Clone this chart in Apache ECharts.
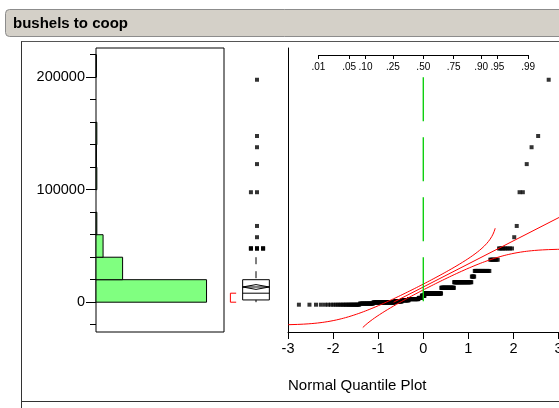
<!DOCTYPE html>
<html>
<head>
<meta charset="utf-8">
<script src="https://cdn.jsdelivr.net/npm/echarts@6/dist/echarts.min.js"></script>
<style>
  html, body { margin: 0; padding: 0; background: #fff; }
  #c { width: 559px; height: 408px; }
</style>
</head>
<body>
<div id="c"></div>
<script>
// Bushels delivered to the coop: each distinct reported amount and how many farms reported it
const bushelValues = [0, 1000, 2000, 3000, 4000, 5000, 6000, 8000, 10000, 15000, 20000, 25000,
                      30000, 40000, 50000, 60000, 70000, 100000, 125000, 140000, 150000, 200000];
const bushelCounts = [27, 19, 45, 20, 20, 30, 10, 9, 51, 35, 38, 5,
                      21, 8, 9, 1, 1, 2, 1, 1, 1, 1];

// Axis ticks and labels
const histBinWidth = 20000;
const valueTicks = [-20000, 0, 20000, 40000, 60000, 80000, 100000, 120000, 140000, 160000, 180000, 200000, 220000];
const valueLabels = [0, 100000, 200000];
const quantileTicks = [-3, -2, -1, 0, 1, 2, 3];
const probTicks = [0.01, 0.05, 0.10, 0.25, 0.50, 0.75, 0.90, 0.95, 0.99];
const probLabels = ['.01', '.05', '.10', '.25', '.50', '.75', '.90', '.95', '.99'];

// Half-width of the Lilliefors confidence band (in probability)
const bandD = 0.05;
// Value range over which each band curve is drawn
const upperBandTop = 65900;
const lowerBandBottom = -22500;

// ---- layout ----
const FONT = 'Liberation Sans, Arial, Helvetica, sans-serif';
const Y_MIN = -26500, Y_MAX = 226000;
const PLOT_TOP = 48, PLOT_H = 284;
const HIST_LEFT = 96, HIST_W = 128, HIST_XMAX = 308;
const BOX_LEFT = 224, BOX_W = 64;
const QQ_LEFT = 288, QQ_ZMIN = -3, QQ_ZMAX = 3.5, PX_PER_Z = 45.1;

// ---- statistics helpers ----
function invNorm(p) {
  const a = [-3.969683028665376e+01, 2.209460984245205e+02, -2.759285104469687e+02, 1.383577518672690e+02, -3.066479806614716e+01, 2.506628277459239e+00];
  const b = [-5.447609879822406e+01, 1.615858368580409e+02, -1.556989798598866e+02, 6.680131188771972e+01, -1.328068155288572e+01];
  const c = [-7.784894002430293e-03, -3.223964580411365e-01, -2.400758277161838e+00, -2.549732539343734e+00, 4.374664141464968e+00, 2.938163982698783e+00];
  const d = [7.784695709041462e-03, 3.224671290700398e-01, 2.445134137142996e+00, 3.754408661907416e+00];
  const pl = 0.02425, ph = 1 - pl;
  let q, r;
  if (p < pl) {
    q = Math.sqrt(-2 * Math.log(p));
    return (((((c[0]*q+c[1])*q+c[2])*q+c[3])*q+c[4])*q+c[5]) / ((((d[0]*q+d[1])*q+d[2])*q+d[3])*q+1);
  }
  if (p > ph) {
    q = Math.sqrt(-2 * Math.log(1 - p));
    return -(((((c[0]*q+c[1])*q+c[2])*q+c[3])*q+c[4])*q+c[5]) / ((((d[0]*q+d[1])*q+d[2])*q+d[3])*q+1);
  }
  q = p - 0.5; r = q * q;
  return (((((a[0]*r+a[1])*r+a[2])*r+a[3])*r+a[4])*r+a[5])*q / (((((b[0]*r+b[1])*r+b[2])*r+b[3])*r+b[4])*r+1);
}
function normCdf(x) {
  const t = 1 / (1 + 0.2316419 * Math.abs(x));
  const dn = 0.3989422804014327 * Math.exp(-x * x / 2);
  const p = dn * t * (0.319381530 + t * (-0.356563782 + t * (1.781477937 + t * (-1.821255978 + t * 1.330274429))));
  return x > 0 ? 1 - p : p;
}

// ---- expand to sorted observations ----
const sorted = [];
bushelValues.forEach((v, i) => { for (let k = 0; k < bushelCounts[i]; k++) sorted.push(v); });
const n = sorted.length;
const mean = sorted.reduce((s, v) => s + v, 0) / n;
const sd = Math.sqrt(sorted.reduce((s, v) => s + (v - mean) * (v - mean), 0) / (n - 1));
function quantile(p) {
  const r = p * (n + 1), lo = Math.floor(r), f = r - lo;
  if (lo < 1) return sorted[0];
  if (lo >= n) return sorted[n - 1];
  return sorted[lo - 1] + f * (sorted[lo] - sorted[lo - 1]);
}
const q1 = quantile(0.25), med = quantile(0.5), q3 = quantile(0.75);
const iqr = q3 - q1;
const hiFence = q3 + 1.5 * iqr, loFence = q1 - 1.5 * iqr;
const whiskHi = Math.max(...sorted.filter(v => v <= hiFence));
const whiskLo = Math.min(...sorted.filter(v => v >= loFence));
const ci = 1.96 * sd / Math.sqrt(n);

// shortest half (densest 50% of observations)
const half = Math.floor(n / 2);
let shLo = sorted[0], shHi = sorted[half];
for (let i = 0; i + half < n; i++) {
  if (sorted[i + half] - sorted[i] < shHi - shLo) { shLo = sorted[i]; shHi = sorted[i + half]; }
}

// histogram bins
const histBins = [];
for (let lo = 0; lo <= sorted[n - 1]; lo += histBinWidth) {
  const cnt = sorted.filter(v => v >= lo && v < lo + histBinWidth).length;
  if (cnt > 0) histBins.push([lo, lo + histBinWidth, cnt]);
}

// normal quantile points
const qqPoints = sorted.map((v, i) => [invNorm((i + 1) / (n + 1)), v]);

// outliers in the box plot, ties placed side by side
const tieSlots = [0, -1, 1];
const tieStep = 0.19;
const outlierPoints = [];
bushelValues.forEach((v, i) => {
  if (v > hiFence || v < loFence) {
    for (let k = 0; k < bushelCounts[i]; k++) outlierPoints.push([tieSlots[k % 3] * tieStep, v]);
  }
});

// fitted normal line and Lilliefors bands
const fitLine = [[(sorted[0] - mean) / sd, sorted[0]], [(sorted[n - 1] - mean) / sd, sorted[n - 1]]];
function bandCurve(sign, vFrom, vTo) {
  const pts = [];
  for (let v = vFrom; v <= vTo; v += 250) {
    const p = normCdf((v - mean) / sd) + sign * bandD;
    if (p <= 0 || p >= 1) continue;
    const z = invNorm(p);
    if (z < QQ_ZMIN - 0.6 || z > QQ_ZMAX + 0.6) continue;
    pts.push([z, v]);
  }
  return pts;
}
const bandRight = bandCurve(1, lowerBandBottom, 120000);
const bandLeft = bandCurve(-1, -60000, upperBandTop);

const probZ = probTicks.map(invNorm);
const probLeft = QQ_LEFT + (probZ[0] - QQ_ZMIN) * PX_PER_Z;
const probWidth = (probZ[probZ.length - 1] - probZ[0]) * PX_PER_Z;

const black = '#000';
const tickLabel = { color: black, fontFamily: FONT, fontSize: 14.5 };

const chart = echarts.init(document.getElementById('c'));
chart.setOption({
  animation: false,
  backgroundColor: '#fff',
  grid: [
    { left: HIST_LEFT, top: PLOT_TOP, width: HIST_W, height: PLOT_H, show: true, borderColor: black, borderWidth: 1, backgroundColor: 'transparent', containLabel: false, outerBoundsMode: 'none' },
    { left: BOX_LEFT, top: PLOT_TOP, width: BOX_W, height: PLOT_H, containLabel: false, outerBoundsMode: 'none' },
    { left: QQ_LEFT, top: PLOT_TOP, width: (QQ_ZMAX - QQ_ZMIN) * PX_PER_Z, height: PLOT_H, containLabel: false, outerBoundsMode: 'none' },
    { left: probLeft, top: 55, width: probWidth, height: 1, containLabel: false, outerBoundsMode: 'none' }
  ],
  xAxis: [
    { gridIndex: 0, type: 'value', min: 0, max: HIST_XMAX, show: false },
    { gridIndex: 1, type: 'value', min: -1, max: 1, show: false },
    { gridIndex: 2, type: 'value', min: QQ_ZMIN, max: QQ_ZMAX, position: 'bottom',
      axisLine: { show: true, onZero: false, lineStyle: { color: black, width: 1 } },
      axisTick: { show: true, length: 7, customValues: quantileTicks, lineStyle: { color: black } },
      axisLabel: { show: true, customValues: quantileTicks, margin: 9, formatter: v => String(v), ...tickLabel },
      splitLine: { show: false } },
    { gridIndex: 3, type: 'value', min: probZ[0], max: probZ[probZ.length - 1], position: 'top',
      axisLine: { show: true, onZero: false, lineStyle: { color: black, width: 1 } },
      axisTick: { show: true, inside: true, length: 4, customValues: probZ, lineStyle: { color: black } },
      axisLabel: { show: true, inside: true, customValues: probZ, margin: 7, color: black, fontFamily: FONT, fontSize: 10,
        formatter: v => { const i = probZ.findIndex(z => Math.abs(z - v) < 1e-6); return i >= 0 ? probLabels[i] : ''; } },
      splitLine: { show: false } }
  ],
  yAxis: [
    { gridIndex: 0, type: 'value', min: Y_MIN, max: Y_MAX, position: 'left',
      axisLine: { show: false },
      axisTick: { show: true, length: 6, customValues: valueTicks, lineStyle: { color: black } },
      axisLabel: { show: false }, splitLine: { show: false } },
    { gridIndex: 0, type: 'value', min: Y_MIN, max: Y_MAX, position: 'left',
      axisLine: { show: false },
      axisTick: { show: true, length: 10, customValues: valueLabels, lineStyle: { color: black } },
      axisLabel: { show: true, customValues: valueLabels, margin: 11, formatter: v => String(v), ...tickLabel },
      splitLine: { show: false } },
    { gridIndex: 1, type: 'value', min: Y_MIN, max: Y_MAX, show: false },
    { gridIndex: 2, type: 'value', min: Y_MIN, max: Y_MAX, position: 'left',
      axisLine: { show: true, onZero: false, lineStyle: { color: black, width: 1 } },
      axisTick: { show: false }, axisLabel: { show: false }, splitLine: { show: false } },
    { gridIndex: 3, type: 'value', min: 0, max: 1, show: false }
  ],
  graphic: [
    { type: 'rect', silent: true, shape: { x: 5.5, y: 9.5, width: 570, height: 27, r: 4 },
      style: { fill: '#d4d0c8', stroke: '#8c8c8c', lineWidth: 1 } },
    { type: 'text', silent: true, x: 13, y: 23.5,
      style: { text: 'bushels to coop', font: 'bold 15px ' + FONT, fill: black, textVerticalAlign: 'middle', verticalAlign: 'middle' } },
    { type: 'line', silent: true, shape: { x1: 21, y1: 41.5, x2: 559, y2: 41.5 }, style: { stroke: '#555', lineWidth: 1 } },
    { type: 'line', silent: true, shape: { x1: 21.5, y1: 41.5, x2: 21.5, y2: 408 }, style: { stroke: '#333', lineWidth: 1 } },
    { type: 'line', silent: true, shape: { x1: 21, y1: 401.5, x2: 559, y2: 401.5 }, style: { stroke: '#333', lineWidth: 1 } },
    { type: 'text', silent: true, x: QQ_LEFT, y: 386,
      style: { text: 'Normal Quantile Plot', font: '15px ' + FONT, fill: black, verticalAlign: 'middle', textVerticalAlign: 'middle' } }
  ],
  series: [
    { // histogram bars
      type: 'custom', xAxisIndex: 0, yAxisIndex: 0, silent: true,
      data: histBins,
      renderItem: (params, api) => {
        const p0 = api.coord([0, api.value(0)]);
        const p1 = api.coord([api.value(2), api.value(1)]);
        return { type: 'rect', shape: { x: p0[0], y: p1[1], width: p1[0] - p0[0], height: p0[1] - p1[1] },
                 style: { fill: '#80ff80', stroke: black, lineWidth: 1 } };
      }
    },
    { // outlier box plot
      type: 'custom', xAxisIndex: 1, yAxisIndex: 2, silent: true,
      data: [[0, med]],
      renderItem: (params, api) => {
        const boxHalf = 0.417;
        const X = u => api.coord([u, 0])[0];
        const Y = v => api.coord([0, v])[1];
        const cx = X(0), xl = X(-boxHalf), xr = X(boxHalf);
        const bx1 = X(-0.8), bx2 = X(-0.62);
        const ln = { stroke: black, lineWidth: 1 };
        return { type: 'group', children: [
          { type: 'line', shape: { x1: cx, y1: Y(q1), x2: cx, y2: Y(whiskLo) }, style: ln },
          { type: 'line', shape: { x1: cx, y1: Y(whiskHi), x2: cx, y2: Y(q3) }, style: { stroke: black, lineWidth: 1, lineDash: [7, 7] } },
          { type: 'rect', shape: { x: xl, y: Y(q3), width: xr - xl, height: Y(q1) - Y(q3) }, style: { fill: 'none', stroke: black, lineWidth: 1 } },
          { type: 'line', shape: { x1: xl, y1: Y(med), x2: xr, y2: Y(med) }, style: ln },
          { type: 'line', shape: { x1: xl, y1: Y(mean), x2: xr, y2: Y(mean) }, style: ln },
          { type: 'polygon', shape: { points: [[xl, Y(mean)], [cx, Y(mean + ci)], [xr, Y(mean)], [cx, Y(mean - ci)]] },
            style: { fill: 'none', stroke: black, lineWidth: 1 } },
          { type: 'polyline', shape: { points: [[bx2, Y(shHi)], [bx1, Y(shHi)], [bx1, Y(shLo)], [bx2, Y(shLo)]] },
            style: { fill: 'none', stroke: '#ff0000', lineWidth: 1 } }
        ] };
      }
    },
    { // outliers
      type: 'scatter', xAxisIndex: 1, yAxisIndex: 2, silent: true,
      data: outlierPoints, symbol: 'rect', symbolSize: 4, symbolOffset: [1, 2.5],
      itemStyle: { color: black }
    },
    { // normal quantile points
      type: 'scatter', xAxisIndex: 2, yAxisIndex: 3, silent: true,
      data: qqPoints, symbol: 'rect', symbolSize: 4, symbolOffset: [0.5, 2.5],
      itemStyle: { color: black }
    },
    { type: 'line', xAxisIndex: 2, yAxisIndex: 3, silent: true, data: fitLine, showSymbol: false, clip: true,
      lineStyle: { color: '#ff0000', width: 1 } },
    { type: 'line', xAxisIndex: 2, yAxisIndex: 3, silent: true, data: bandRight, showSymbol: false, clip: true,
      lineStyle: { color: '#ff0000', width: 1 } },
    { type: 'line', xAxisIndex: 2, yAxisIndex: 3, silent: true, data: bandLeft, showSymbol: false, clip: true,
      lineStyle: { color: '#ff0000', width: 1 } },
    { // probability .50 reference over the data range
      type: 'line', xAxisIndex: 2, yAxisIndex: 3, silent: true,
      data: [[0, sorted[n - 1]], [0, sorted[0]]], showSymbol: false,
      lineStyle: { color: '#10d010', width: 1.4, type: [44, 16] } }
  ]
});
</script>
</body>
</html>
